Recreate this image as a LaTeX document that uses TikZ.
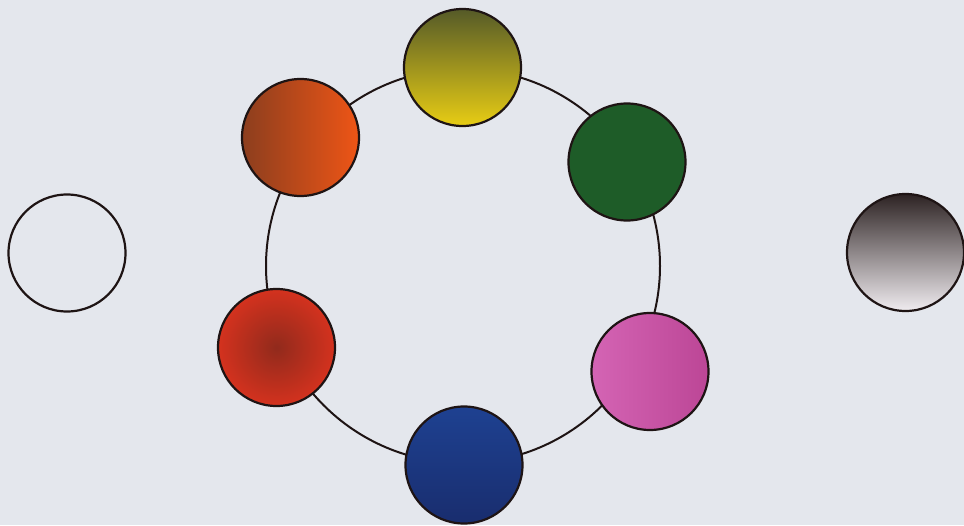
\documentclass[tikz,border=0pt]{standalone}
\usetikzlibrary{positioning}

\definecolor{paper}{RGB}{228,231,237}
\definecolor{ink}{RGB}{30,20,20}

\tikzstyle{dot} = [circle, draw=ink, line width=2.2pt, minimum size=117pt, inner sep=0pt]
\tikzstyle{ring} = [draw=ink, line width=2pt]

\begin{document}
\begin{tikzpicture}[x=1pt, y=-1pt]
%achtergrond
\fill[paper] (0,0) rectangle (964,525);
\useasboundingbox (0,0) rectangle (964,525);
%kring
\coordinate (mid) at (463,266);
\draw[ring] (mid) circle (197pt);
%begin kleuren
\node[dot, top color={rgb,255:red,85;green,90;blue,40}, middle color={rgb,255:red,170;green,170;blue,30}, bottom color={rgb,255:red,232;green,205;blue,20}] (geel) at (462.5,67.5) {};
\node[dot, left color={rgb,255:red,140;green,62;blue,30}, right color={rgb,255:red,238;green,85;blue,22}] (oranje) at (300.5,137.5) {};
\node[dot, fill={rgb,255:red,30;green,92;blue,40}] (groen) at (627,162) {};
\node[dot, inner color={rgb,255:red,145;green,42;blue,28}, outer color={rgb,255:red,212;green,50;blue,30}] (rood) at (276.5,347.5) {};
\node[dot, left color={rgb,255:red,212;green,100;blue,180}, right color={rgb,255:red,188;green,70;blue,150}] (roze) at (650,371.5) {};
\node[dot, top color={rgb,255:red,30;green,65;blue,145}, bottom color={rgb,255:red,25;green,45;blue,110}] (blauw) at (464,465) {};
%end kleuren
%begin wit en grijs
\node[dot, fill=paper] (wit) at (67,253) {};
\node[dot, top color={rgb,255:red,45;green,35;blue,35}, bottom color={rgb,255:red,240;green,236;blue,240}] (grijs) at (905.5,252.5) {};
%end wit en grijs
\end{tikzpicture}
\end{document}
